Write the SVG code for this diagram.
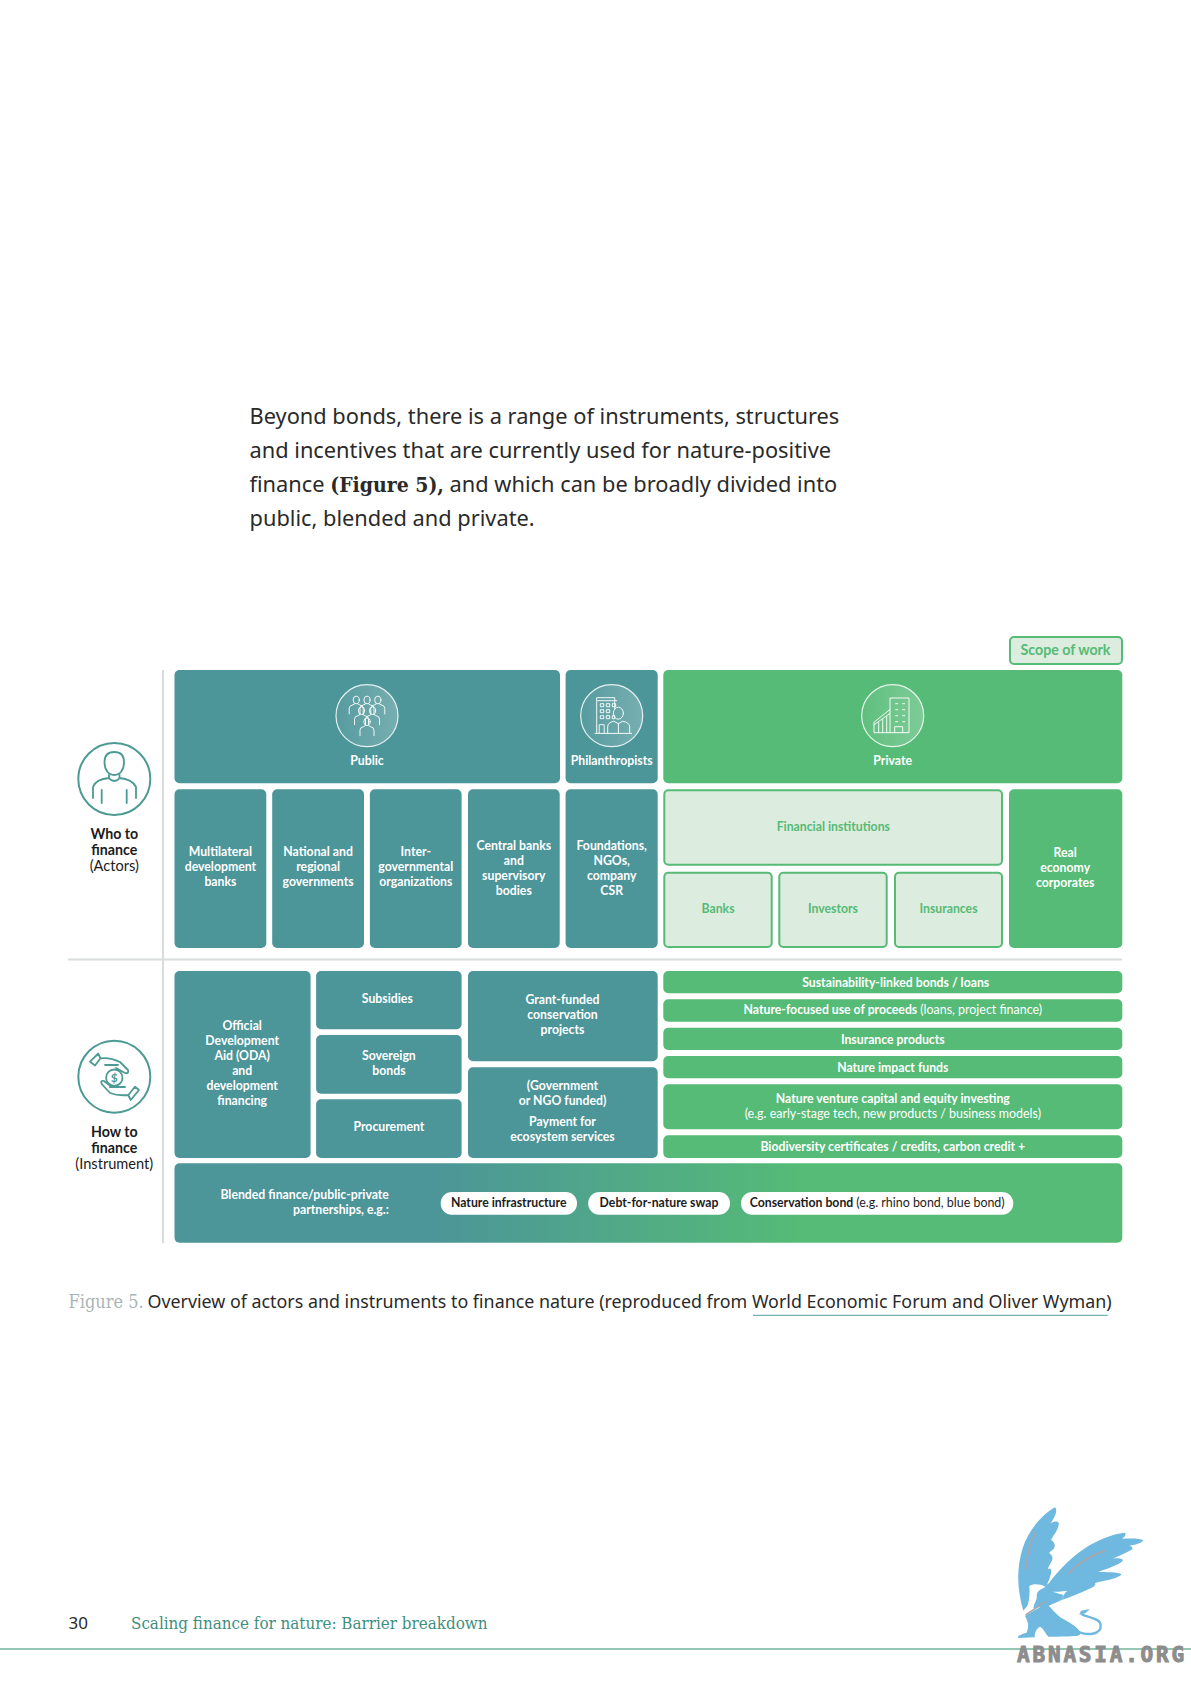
<svg xmlns="http://www.w3.org/2000/svg" width="1191" height="1684" viewBox="0 0 1191 1684">
<style>
.t{fill:#4c9599}.g{fill:#55bb76}
.p{fill:#dcecdf;stroke:#55bb76;stroke-width:2}
text{font-family:"Lato","Liberation Sans",sans-serif;font-weight:700;font-size:12.25px;text-anchor:middle}
.w{fill:#fff}.pg{fill:#55bb76}.k{fill:#1c1c1c}
.reg{font-weight:400;font-size:12.45px}
.body{font-family:"Noto Sans","Open Sans",sans-serif;font-weight:400;font-size:21.8px;fill:#2a2a2a;text-anchor:start}
.serif{font-family:"DejaVu Serif Condensed","DejaVu Serif","Liberation Serif",serif}
.cap{font-family:"Noto Sans","Open Sans",sans-serif;font-weight:400;font-size:17.85px;fill:#2a2a2a;text-anchor:start}
.ring{fill:url(#ringFill);stroke:#fff;stroke-width:1.2;stroke-opacity:.85}
.ic{fill:none;stroke:#fff;stroke-opacity:.92;stroke-width:1;stroke-linejoin:round;stroke-linecap:round}
.ic2{fill:none;stroke:#4c9a94;stroke-width:1.8;stroke-linejoin:round;stroke-linecap:round}
.lab{font-size:14.2px;fill:#1c1c1c}
.lab.reg{font-size:14.6px}
</style>
<defs>
<linearGradient id="ringFill" x1="0" y1="0" x2="1" y2="0"><stop offset="0" stop-color="#fff" stop-opacity=".06"/><stop offset="1" stop-color="#fff" stop-opacity=".24"/></linearGradient>
<linearGradient id="blend" gradientUnits="userSpaceOnUse" x1="430" y1="0" x2="800" y2="0"><stop offset="0" stop-color="#4c9599"/><stop offset="1" stop-color="#55bb76"/></linearGradient>
<g id="person"><ellipse cx="0" cy="0" rx="3.1" ry="3.8" class="ic"/><path class="ic" d="M-7,14V8.500Q-7,5.500 -3.200,4.800L-1.500,3.800M1.500,3.800L3.200,4.800Q7,5.500 7,8.500V14"/></g>
</defs>

<g id="intro">
<text class="body" x="249.500" y="424">Beyond bonds, there is a range of instruments, structures</text>
<text class="body" x="249.500" y="458">and incentives that are currently used for nature-positive</text>
<text class="body" x="249.500" y="492">finance <tspan class="serif" font-weight="700" font-size="21">(Figure 5),</tspan> and which can be broadly divided into</text>
<text class="body" x="249.500" y="526">public, blended and private.</text>
</g>

<g id="dividers" stroke="#d9dcdc" stroke-width="2" fill="none">
<path d="M163,670V1243"/><path d="M68,959.500H1122"/>
</g>
<g id="connectors"></g>

<g id="scope-of-work"><rect class="p" x="1010" y="637" width="112" height="27" rx="4"/><text class="pg" x="1065.500" y="654.500" style="font-size:14.2px">Scope of work</text></g>

<g id="who-to-finance">
<circle cx="114.300" cy="779" r="36" fill="#fff" stroke="#4c9a94" stroke-width="2"/>
<path class="ic2" d="M104.500,762C104.500,755 108,752 114.300,752C120.500,752 124,755 124,762C124,770 120,775 114.300,775C108.500,775 104.500,770 104.500,762Z"/>
<path class="ic2" d="M109,775V777Q109,780 114.300,781Q119.500,780 119.500,777V775M109,778Q96,779 93,787V798M119.500,778Q132,779 136,787V798M101.700,790V803M126.700,790V803"/>
<text class="lab" x="114.300" y="839">Who to</text><text class="lab" x="114.300" y="855">finance</text><text class="lab reg" x="114.300" y="871">(Actors)</text>
</g>

<g id="how-to-finance">
<circle cx="114.300" cy="1076.700" r="36" fill="#fff" stroke="#4c9a94" stroke-width="2"/>
<circle cx="114.300" cy="1077.700" r="8.200" class="ic2"/>
<path class="ic2" d="M98.300,1053.500L90,1061.700L95,1065.500L100.500,1058.300ZM100.500,1058.300Q110,1057 120,1062L128,1070Q129,1074 125,1073L116,1068M105,1065L118,1065"/>
<path class="ic2" d="M139,1090L130.700,1100L128.300,1095L135,1086.700ZM128.300,1095Q118,1096 110,1093L101.700,1084Q100,1080 104,1081L112,1087M110,1087L125,1087"/>
<text x="114.300" y="1082" style="font-size:12px;fill:#4c9a94">$</text>
<text class="lab" x="114.300" y="1137">How to</text><text class="lab" x="114.300" y="1153">finance</text><text class="lab reg" x="114.300" y="1169">(Instrument)</text>
</g>

<g id="public"><rect class="t" x="174.500" y="670" width="385.500" height="113.300" rx="5"/>
<circle class="ring" cx="367" cy="715.700" r="31"/>
<g transform="translate(367,715.700)">
<use href="#person" x="-10.800" y="-15.700"/><use href="#person" x="0" y="-15.700"/><use href="#person" x="10.800" y="-15.700"/>
<use href="#person" x="-5.500" y="-5"/><use href="#person" x="5.500" y="-5"/><use href="#person" x="0" y="6"/>
</g>
<text class="w" x="367" y="765">Public</text></g>

<g id="philanthropists"><rect class="t" x="565.600" y="670" width="92.100" height="113.300" rx="5"/>
<circle class="ring" cx="611.700" cy="715.700" r="31"/>
<g transform="translate(611.700,715.700)">
<path class="ic" d="M-15,17V-18H3V-7M-14,-15H5M-16.700,17.700H20M-12.500,17V9H-7.500V17"/>
<path class="ic" d="M-11,-12h3v3h-3zM-5,-12h3v3h-3zM1,-12h3v3h-3zM-11,-6h3v3h-3zM-5,-6h3v3h-3zM-11,0h3v3h-3zM-5,0h3v3h-3zM1,0h2v3h-2z"/>
<ellipse class="ic" cx="6.700" cy="-2.500" rx="5" ry="6"/>
<path class="ic" d="M-4,17V11Q-4,7 2,5.500L6.700,8L11,5.500Q18,7 18,11V17M6.700,8V17"/>
</g>
<text class="w" x="611.700" y="765">Philanthropists</text></g>

<g id="private"><rect class="g" x="663.300" y="670" width="459" height="113.300" rx="5"/>
<circle class="ring" cx="892.700" cy="715.700" r="31"/>
<g transform="translate(892.700,715.700)">
<path class="ic" d="M-2.700,17V-17.700H16.300V17H-18.700V6.500L-3,-6"/>
<path class="ic" d="M-18.700,9L-3,-2M-14,7V17M-10,4V17M-6,1V17M2,17V11H10V17M3,-12h2M10,-12h2M3,-6h2M10,-6h2M3,0h2M10,0h2M3,6h2M10,6h2"/>
</g>
<text class="w" x="892.700" y="765">Private</text></g>

<g id="multilateral"><rect class="t" x="174.500" y="789.300" width="91.800" height="158.700" rx="5"/><text class="w" x="220.400" y="856">Multilateral</text><text class="w" x="220.400" y="871">development</text><text class="w" x="220.400" y="886">banks</text></g>
<g id="national"><rect class="t" x="272.200" y="789.300" width="91.800" height="158.700" rx="5"/><text class="w" x="318.100" y="856">National and</text><text class="w" x="318.100" y="871">regional</text><text class="w" x="318.100" y="886">governments</text></g>
<g id="intergovernmental"><rect class="t" x="369.900" y="789.300" width="91.700" height="158.700" rx="5"/><text class="w" x="415.800" y="856">Inter-</text><text class="w" x="415.800" y="871">governmental</text><text class="w" x="415.800" y="886">organizations</text></g>
<g id="central-banks"><rect class="t" x="468" y="789.300" width="91.700" height="158.700" rx="5"/><text class="w" x="513.800" y="850">Central banks</text><text class="w" x="513.800" y="865">and</text><text class="w" x="513.800" y="880">supervisory</text><text class="w" x="513.800" y="895">bodies</text></g>
<g id="foundations"><rect class="t" x="565.600" y="789.300" width="92.100" height="158.700" rx="5"/><text class="w" x="611.700" y="850">Foundations,</text><text class="w" x="611.700" y="865">NGOs,</text><text class="w" x="611.700" y="880">company</text><text class="w" x="611.700" y="895">CSR</text></g>

<g id="financial-institutions"><rect class="p" x="664.300" y="790.300" width="337.700" height="74.400" rx="4"/><text class="pg" x="833.300" y="831">Financial institutions</text></g>
<g id="banks"><rect class="p" x="664.300" y="872.700" width="107.400" height="74.300" rx="4"/><text class="pg" x="718" y="913">Banks</text></g>
<g id="investors"><rect class="p" x="779.300" y="872.700" width="107.400" height="74.300" rx="4"/><text class="pg" x="833" y="913">Investors</text></g>
<g id="insurances"><rect class="p" x="895" y="872.700" width="107" height="74.300" rx="4"/><text class="pg" x="948.500" y="913">Insurances</text></g>
<g id="real-economy"><rect class="g" x="1009" y="789.300" width="113.300" height="158.700" rx="5"/><text class="w" x="1065.200" y="857">Real</text><text class="w" x="1065.200" y="872">economy</text><text class="w" x="1065.200" y="887">corporates</text></g>

<g id="oda"><rect class="t" x="174.500" y="971" width="136.100" height="187" rx="5"/><text class="w" x="242.200" y="1030">Official</text><text class="w" x="242.200" y="1045">Development</text><text class="w" x="242.200" y="1060">Aid (ODA)</text><text class="w" x="242.200" y="1075">and</text><text class="w" x="242.200" y="1090">development</text><text class="w" x="242.200" y="1105">financing</text></g>
<g id="subsidies"><rect class="t" x="316.100" y="971" width="145.500" height="58.300" rx="5"/><text class="w" x="387.300" y="1003">Subsidies</text></g>
<g id="sovereign-bonds"><rect class="t" x="316.100" y="1035" width="145.500" height="58.700" rx="5"/><text class="w" x="388.900" y="1060">Sovereign</text><text class="w" x="388.900" y="1075">bonds</text></g>
<g id="procurement"><rect class="t" x="316.100" y="1099.300" width="145.500" height="58.700" rx="5"/><text class="w" x="388.900" y="1131">Procurement</text></g>
<g id="grant-funded"><rect class="t" x="468" y="971" width="189.700" height="90.300" rx="5"/><text class="w" x="562.500" y="1004">Grant-funded</text><text class="w" x="562.500" y="1019">conservation</text><text class="w" x="562.500" y="1034">projects</text></g>
<g id="payment-ecosystem"><rect class="t" x="468" y="1067.300" width="189.700" height="90.700" rx="5"/><text class="w" x="562.500" y="1090">(Government</text><text class="w" x="562.500" y="1105">or NGO funded)</text><text class="w" x="562.500" y="1126">Payment for</text><text class="w" x="562.500" y="1141">ecosystem services</text></g>

<g id="sustainability-linked"><rect class="g" x="663.300" y="971" width="459" height="22.300" rx="5"/><text class="w" x="895.700" y="987">Sustainability-linked bonds / loans</text></g>
<g id="use-of-proceeds"><rect class="g" x="663.300" y="999.300" width="459" height="22.400" rx="5"/><text class="w" x="892.800" y="1014">Nature-focused use of proceeds <tspan class="reg">(loans, project finance)</tspan></text></g>
<g id="insurance-products"><rect class="g" x="663.300" y="1027.700" width="459" height="22.300" rx="5"/><text class="w" x="892.800" y="1044">Insurance products</text></g>
<g id="impact-funds"><rect class="g" x="663.300" y="1056" width="459" height="22.300" rx="5"/><text class="w" x="892.800" y="1072">Nature impact funds</text></g>
<g id="venture-capital"><rect class="g" x="663.300" y="1084.300" width="459" height="45" rx="5"/><text class="w" x="892.800" y="1103">Nature venture capital and equity investing</text><text class="w reg" x="892.800" y="1118">(e.g. early-stage tech, new products / business models)</text></g>
<g id="biodiversity"><rect class="g" x="663.300" y="1135.300" width="459" height="22.700" rx="5"/><text class="w" x="892.800" y="1151">Biodiversity certificates / credits, carbon credit +</text></g>

<g id="blended"><rect fill="url(#blend)" x="174.500" y="1163.300" width="947.800" height="79.400" rx="5"/>
<text class="w" x="388.900" y="1199" style="text-anchor:end">Blended finance/public-private</text><text class="w" x="388.900" y="1214" style="text-anchor:end">partnerships, e.g.:</text></g>
<g id="nature-infrastructure"><rect class="w" x="440.700" y="1192" width="136.300" height="22.700" rx="11.300"/><text class="k" x="508.700" y="1207">Nature infrastructure</text></g>
<g id="debt-for-nature"><rect class="w" x="588.200" y="1192" width="141.800" height="22.700" rx="11.300"/><text class="k" x="659" y="1207">Debt-for-nature swap</text></g>
<g id="conservation-bond"><rect class="w" x="741" y="1192" width="272.300" height="22.700" rx="11.300"/><text class="k" x="877.200" y="1207">Conservation bond <tspan class="reg">(e.g. rhino bond, blue bond)</tspan></text></g>

<g id="caption">
<text class="cap" x="68.500" y="1308"><tspan class="serif" fill="#a9b5b4" font-size="18">Figure 5.</tspan></text>
<text class="cap" x="147.500" y="1308">Overview of actors and instruments to finance nature (reproduced from World Economic Forum and Oliver Wyman)</text>
<path d="M753,1315.300H1107.700" stroke="#6fb3b0" stroke-width="1.200"/>
</g>

<g id="footer">
<text class="cap" x="68.500" y="1629" style="font-size:17px">30</text>
<text class="cap serif" x="131" y="1629" style="font-family:'DejaVu Serif Condensed','DejaVu Serif',serif;font-size:16.850px;fill:#3f8f80">Scaling finance for nature: Barrier breakdown</text>
<path d="M0,1649H1191" stroke="#6fb39a" stroke-width="1.500"/>
</g>

<g id="griffin" transform="translate(980,1480) scale(.3333)" fill="#6fb8e0">
<path d="M130,392C112,330 108,270 128,205C145,150 190,100 225,82C234,90 226,110 212,130C225,122 240,122 236,135C232,155 220,165 213,180C222,185 228,195 222,205C218,212 208,215 208,220C218,225 220,238 214,245C208,256 204,262 204,268C212,262 216,268 213,280C210,295 205,305 200,315C170,345 145,375 130,392Z"/>
<path d="M205,312C235,270 280,225 330,195C365,175 405,160 435,158C440,165 432,172 425,177C450,175 480,175 490,181C485,190 465,195 448,197C458,200 462,205 452,211C435,220 415,230 398,236C415,233 432,236 428,243C415,255 385,265 355,275C378,277 415,275 425,283C415,295 385,300 345,309C350,315 340,322 325,328C300,340 270,352 245,360C250,345 255,338 262,332C245,335 225,335 208,335Z"/>
<path d="M160,385L170,342L205,310L218,335L250,345L245,360L205,378Z"/>
<path d="M135,408C155,395 180,380 200,372C215,385 225,400 245,415C270,428 290,440 300,455C305,465 295,468 280,468C260,470 235,470 205,470C195,458 190,445 180,440C170,445 162,460 165,472L115,474C110,468 125,462 140,458C148,440 145,425 135,408Z"/>
<path fill="none" stroke="#6fb8e0" stroke-width="7" d="M285,450C320,470 365,465 362,435C360,415 325,412 305,403"/>
<path d="M298,405L303,392L330,387L316,400Z"/>
<path fill="#fff" d="M140,385C148,365 150,340 148,318C160,310 180,312 196,320C185,328 172,330 170,345C172,360 165,372 150,385Z"/>
<path fill="none" stroke="#a9a7ad" stroke-width="5" d="M137,270C140,230 150,190 168,155M265,280C295,250 335,225 375,212M137,405C155,392 175,380 195,365"/>
</g>
<text id="watermark" x="1102" y="1662" style="font-family:'DejaVu Sans Mono',monospace;font-weight:700;font-size:21px;fill:#8d8d8d;stroke:#8d8d8d;stroke-width:1;letter-spacing:2.800px;text-anchor:middle">ABNASIA.ORG</text>
</svg>
